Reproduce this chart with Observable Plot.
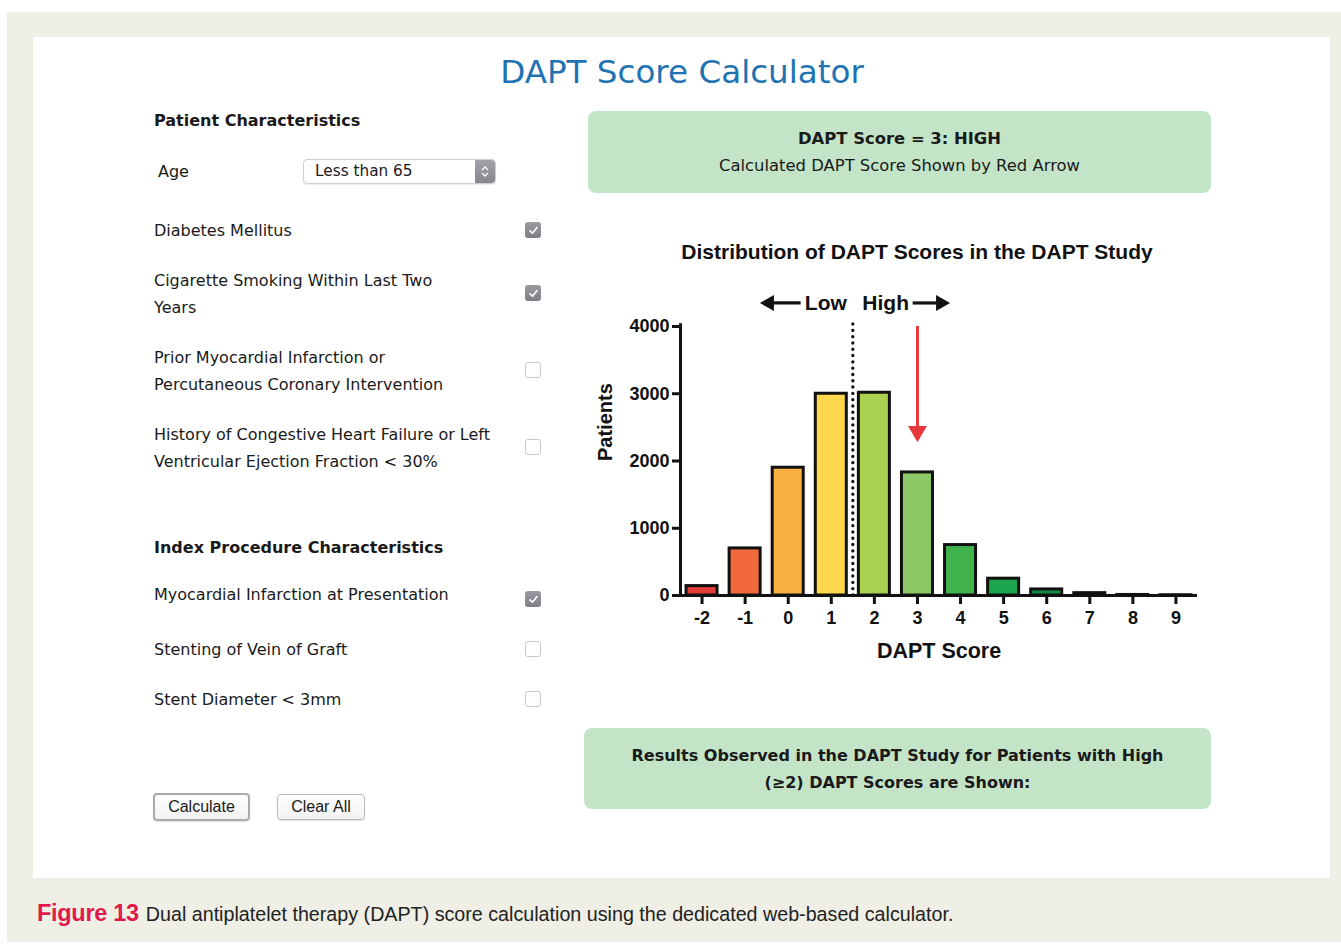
<!DOCTYPE html>
<html><head><meta charset="utf-8">
<script src="https://cdn.jsdelivr.net/npm/d3@7"></script>
<script src="https://cdn.jsdelivr.net/npm/@observablehq/plot@0.6"></script>
<style>
html,body{margin:0;padding:0;}
body{background:#fff;width:1341px;height:948px;position:relative;overflow:hidden;font-family:"DejaVu Sans",Verdana,sans-serif;color:#1a1a1a;}
.abs{position:absolute;white-space:nowrap;}
#bg{position:absolute;left:7px;top:12px;width:1334px;height:930px;background:#efefe6;}
#panel{position:absolute;left:33px;top:37px;width:1297px;height:841px;background:#fff;}
.lbl{font-size:16px;line-height:27px;}
.hdr{font-size:16px;font-weight:bold;line-height:20px;}
.cb{position:absolute;width:16px;height:16px;border-radius:3px;box-sizing:border-box;}
.cb.on{background:linear-gradient(#9a9aa2,#7e7e86);}
.cb.off{background:#fff;border:1px solid #c9c9cc;}
.cb.on svg{position:absolute;left:2.5px;top:2.5px;}
.greenbox{position:absolute;background:#c4e4c7;border-radius:8px;text-align:center;}
.btn{position:absolute;height:24px;border:1px solid #b9b9bd;border-radius:4px;background:linear-gradient(#ffffff,#f1f1f1);font-family:"Liberation Sans",Arial,sans-serif;font-size:16px;line-height:24px;text-align:center;box-shadow:0 1px 1px rgba(0,0,0,0.12);}
#chart{position:absolute;left:590px;top:225px;}
</style></head><body>
<div id="bg"></div>
<div id="panel"></div>
<div id="page"></div>
<div id="chart"></div>
<script>
// ---- chart data ----
const scores = [-2, -1, 0, 1, 2, 3, 4, 5, 6, 7, 8, 9];
const patients = [140, 700, 1900, 3000, 3015, 1830, 750, 250, 90, 35, 8, 4];
const barColors = ["#e23d36", "#f26a3b", "#fbb142", "#fdd84d", "#a9d04f", "#8dc866", "#41b34c", "#1ba64e", "#138b45", "#0e6f3b", "#0b5a32", "#0a4f2d"];
const yTicks = [0, 1000, 2000, 3000, 4000];
const selectedScore = 3;
const cutoff = 1.5;

// ---- page text ----
const pageTitle = "DAPT Score Calculator";
const patientItems = [
  {lines: ["Diabetes Mellitus"], checked: true},
  {lines: ["Cigarette Smoking Within Last Two", "Years"], checked: true},
  {lines: ["Prior Myocardial Infarction or", "Percutaneous Coronary Intervention"], checked: false},
  {lines: ["History of Congestive Heart Failure or Left", "Ventricular Ejection Fraction < 30%"], checked: false}
];
const procedureItems = [
  {lines: ["Myocardial Infarction at Presentation"], checked: true},
  {lines: ["Stenting of Vein of Graft"], checked: false},
  {lines: ["Stent Diameter < 3mm"], checked: false}
];

const page = document.getElementById("page");
function add(html, style, cls) {
  const d = document.createElement("div");
  d.className = "abs " + (cls || "");
  Object.assign(d.style, style);
  d.innerHTML = html;
  page.appendChild(d);
  return d;
}
const check = '<svg width="11" height="11" viewBox="0 0 11 11"><path d="M2 5.8 L4.5 8.2 L9 2.6" fill="none" stroke="#fff" stroke-width="1.6" stroke-linecap="round" stroke-linejoin="round"/></svg>';
function checkbox(x, yc, on) {
  const d = document.createElement("div");
  d.className = "cb " + (on ? "on" : "off");
  d.style.left = (x - 8) + "px";
  d.style.top = (yc - 8) + "px";
  if (on) d.innerHTML = check;
  page.appendChild(d);
}

// title
add(pageTitle, {left: "0px", width: "1364px", top: "51px", textAlign: "center", fontSize: "32.6px", color: "#1f73b3", lineHeight: "42px"});

// left panel
add("Patient Characteristics", {left: "154px", top: "111px"}, "hdr");
add("Age", {left: "158px", top: "158px"}, "lbl");
add('<div style="position:absolute;left:0;top:0;width:191px;height:23px;border:1px solid #cfcfd2;border-radius:4px;background:#fff;box-shadow:0 1px 1px rgba(0,0,0,0.08)"></div>' +
    '<div style="position:absolute;left:172px;top:1px;width:20px;height:23px;border-radius:0 4px 4px 0;background:linear-gradient(#a2a2a8,#86868c)"></div>' +
    '<svg style="position:absolute;left:176px;top:5px" width="12" height="15" viewBox="0 0 12 15"><path d="M3 6 L6 3 L9 6 M3 9 L6 12 L9 9" fill="none" stroke="#fff" stroke-width="1.3"/></svg>' +
    '<div style="position:absolute;left:12px;top:0;font-size:15.3px;line-height:25px">Less than 65</div>',
    {left: "303px", top: "159px", width: "193px", height: "25px"});

const lineGap = 27;
const patientY = [230, 280, 357, 434];
const patientCbY = [230, 293, 370, 447];
patientItems.forEach((it, i) => {
  it.lines.forEach((t, j) => add(t.replace("<", "&lt;"), {left: "154px", top: (patientY[i] + j * lineGap - 13.5) + "px"}, "lbl"));
  checkbox(533, patientCbY[i], it.checked);
});
add("Index Procedure Characteristics", {left: "154px", top: "538px"}, "hdr");
const procY = [594, 649, 699];
const procCbY = [599, 649, 699];
procedureItems.forEach((it, i) => {
  it.lines.forEach((t, j) => add(t.replace("<", "&lt;"), {left: "154px", top: (procY[i] + j * lineGap - 13.5) + "px"}, "lbl"));
  checkbox(533, procCbY[i], it.checked);
});

// buttons
const b1 = add("Calculate", {left: "153px", top: "793px", width: "93px", border: "2px solid #a9a9ae"}, "btn");
b1.className = "btn";
const b2 = add("Clear All", {left: "277px", top: "794px", width: "86px"}, "btn");
b2.className = "btn";

// green boxes
add('<div style="font-weight:bold;font-size:16.4px;line-height:27px;padding-top:14px">DAPT Score = ' + selectedScore + ': HIGH</div>' +
    '<div style="font-size:16.4px;line-height:27px">Calculated DAPT Score Shown by Red Arrow</div>',
    {left: "588px", top: "111px", width: "623px", height: "82px"}, "greenbox");
add('<div style="font-weight:bold;font-size:16px;line-height:27px;padding-top:14px">Results Observed in the DAPT Study for Patients with High</div>' +
    '<div style="font-weight:bold;font-size:16px;line-height:27px">(\u22652) DAPT Scores are Shown:</div>',
    {left: "584px", top: "728px", width: "627px", height: "81px"}, "greenbox");

// caption
add('<span style="color:#e3194d;font-weight:bold;font-size:23.5px;font-family:\'Liberation Sans\',sans-serif;letter-spacing:-0.3px">Figure 13</span>' +
    '<span style="font-family:\'Liberation Sans\',sans-serif;font-size:19.7px;color:#222;margin-left:7px">Dual antiplatelet therapy (DAPT) score calculation using the dedicated web-based calculator.</span>',
    {left: "37px", top: "899px", lineHeight: "28px"});

// ---- chart ----
const data = scores.map((s, i) => ({score: s, patients: patients[i], color: barColors[i]}));
const half = 0.36;
const red = "#e8383c";
const ink = "#111";
// annotation positions (data space)
const lowHighY = 4350;
const lowArrow = {tip: -0.62, tail: 0.3};
const highArrow = {tail: 2.9, tip: 3.72};
const lowText = 1.36, highText = 1.72;
const redArrow = {top: 4000, head: 2500};

const chart = Plot.plot({
  width: 620, height: 450,
  marginLeft: 90, marginRight: 13, marginTop: 101, marginBottom: 80,
  style: {fontFamily: "'Liberation Sans', Arial, sans-serif", fontSize: "18px", fontWeight: "bold", color: ink, background: "transparent", overflow: "visible"},
  x: {domain: [-2.5, 9.5], axis: null},
  y: {domain: [0, 4000], axis: null},
  marks: [
    Plot.rectY(data, {x1: d => d.score - half, x2: d => d.score + half, y1: 0, y2: "patients", fill: "color", stroke: ink, strokeWidth: 3}),
    Plot.ruleX([cutoff], {y1: 0, y2: 4100, stroke: ink, strokeWidth: 3.3, strokeDasharray: "0.1 6.2", strokeLinecap: "round"}),
    Plot.axisX({ticks: scores, tickSize: 9, tickPadding: 7, strokeWidth: 3, tickFormat: d => String(d), label: null, fontSize: 18, fontWeight: "bold"}),
    Plot.axisY({ticks: yTicks, tickSize: 8, tickPadding: 3, strokeWidth: 3, tickFormat: d => String(d), label: null, fontSize: 18, fontWeight: "bold"}),
    Plot.ruleY([0], {stroke: ink, strokeWidth: 3}),
    Plot.ruleX([-2.5], {stroke: ink, strokeWidth: 3, y1: 0, y2: 4040}),
    // red arrow
    Plot.ruleX([selectedScore], {y1: redArrow.head, y2: redArrow.top, stroke: red, strokeWidth: 3}),
    Plot.dot([selectedScore], {x: d => d, y: redArrow.head - 60, symbol: "triangle", r: 7, fill: red, rotate: 180}),
    // Low / High annotation
    Plot.ruleY([lowHighY], {x1: lowArrow.tip + 0.12, x2: lowArrow.tail, stroke: ink, strokeWidth: 3.2}),
    Plot.dot([lowHighY], {x: lowArrow.tip + 0.18, y: d => d, symbol: "triangle", r: 6, fill: ink, rotate: -90}),
    Plot.ruleY([lowHighY], {x1: highArrow.tail, x2: highArrow.tip - 0.12, stroke: ink, strokeWidth: 3.2}),
    Plot.dot([lowHighY], {x: highArrow.tip - 0.18, y: d => d, symbol: "triangle", r: 6, fill: ink, rotate: 90}),
    Plot.text(["Low"], {x: lowText, y: lowHighY, textAnchor: "end", fontSize: 21, fontWeight: "bold"}),
    Plot.text(["High"], {x: highText, y: lowHighY, textAnchor: "start", fontSize: 21, fontWeight: "bold"}),
    // titles
    Plot.text(["Distribution of DAPT Scores in the DAPT Study"], {frameAnchor: "top", dx: -22, dy: -82, fontSize: 21, fontWeight: "bold"}),
    Plot.text(["Patients"], {frameAnchor: "left", dx: -75, rotate: -90, fontSize: 20, fontWeight: "bold"}),
    Plot.text(["DAPT Score"], {frameAnchor: "bottom", dy: 62, fontSize: 21.5, fontWeight: "bold"})
  ]
});
document.getElementById("chart").appendChild(chart);
</script>
</body></html>
